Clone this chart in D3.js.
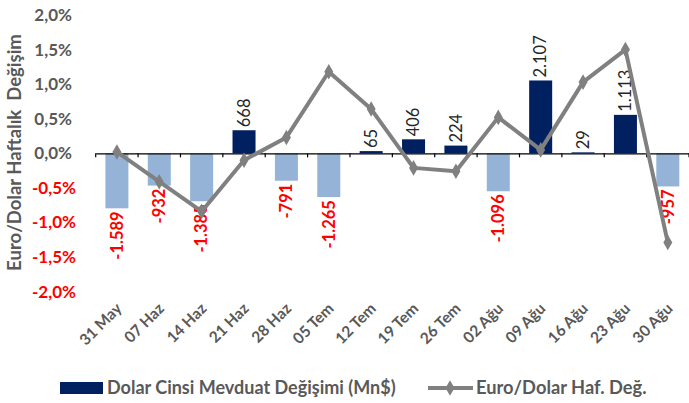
<!DOCTYPE html>
<html><head><meta charset="utf-8">
<script src="https://cdn.jsdelivr.net/npm/d3@7"></script>
<style>
body{margin:0;background:#fff;}
svg{display:block;font-family:Lato, "Open Sans", sans-serif;}
</style></head>
<body><svg id="c" width="689" height="403"></svg>
<script>
const categories = ["31 May","07 Haz","14 Haz","21 Haz","28 Haz","05 Tem","12 Tem","19 Tem","26 Tem","02 Ağu","09 Ağu","16 Ağu","23 Ağu","30 Ağu"];
const depositChange = [-1589,-932,-1385,668,-791,-1265,65,406,224,-1096,2107,29,1113,-957];
const euroUsd = [0.02,-0.41,-0.84,-0.10,0.23,1.18,0.64,-0.21,-0.26,0.52,0.05,1.03,1.50,-1.29];
const yTicks = [2.0,1.5,1.0,0.5,0.0,-0.5,-1.0,-1.5,-2.0];
const seriesNames = ["Dolar Cinsi Mevduat Değişimi (Mn$)","Euro/Dolar Haf. Değ."];
const yTitle = "Euro/Dolar Haftalık\u00a0\u00a0Değişim";

(function(){
const svg = d3.select("#c");
const pLeft = 95.7, pRight = 689, pTop = 15, pBottom = 291.7;
const x = d3.scaleBand().domain(categories).range([pLeft,pRight]).paddingInner(0.457).paddingOuter(0.2285);
const y = d3.scaleLinear().domain([-2,2]).range([pBottom,pTop]);
const y2 = d3.scaleLinear().domain([-4000,4000]).range([pBottom,pTop]);
const cx = c => x(c) + x.bandwidth()/2;
const loc = d3.formatLocale({decimal:",",thousands:".",grouping:[3],currency:["",""],minus:"-"});
const tickFmt = v => loc.format(".1f")(v) + "%";
const numFmt = loc.format(",d");

// y tick labels
svg.append("g").selectAll("text").data(yTicks).join("text")
  .attr("x", d => d < 0 ? 76 : 72)
  .attr("y", d => y(d))
  .attr("dy","0.35em")
  .attr("text-anchor","end")
  .attr("font-size",17).attr("font-weight","bold")
  .attr("fill", d => d < 0 ? "#FF0000" : "#595959")
  .text(d => tickFmt(d));

// y title
svg.append("text")
  .attr("transform","translate(15,152.5) rotate(-90)")
  .attr("dy","0.35em").attr("text-anchor","middle")
  .attr("font-size",18.5).attr("font-weight","bold").attr("fill","#595959")
  .text(yTitle);

// bars
svg.append("g").selectAll("rect").data(depositChange).join("rect")
  .attr("x",(d,i)=>x(categories[i]))
  .attr("width",x.bandwidth())
  .attr("y",d=>Math.min(y2(d),y2(0)))
  .attr("height",d=>Math.abs(y2(d)-y2(0)))
  .attr("fill",d=>d>=0?"#002060":"#95B3D7");

// zero axis with ticks
const ax = svg.append("g").attr("transform",`translate(0,${y(0)})`);
ax.call(d3.axisBottom(x).tickSize(0).tickFormat(""));
ax.select(".domain").attr("stroke","#000").attr("stroke-width",1.2);
const step = x.step();
ax.selectAll(".tk").data(d3.range(categories.length+1)).join("line")
  .attr("x1",i=>pLeft+i*step).attr("x2",i=>pLeft+i*step)
  .attr("y1",0).attr("y2",4).attr("stroke","#000").attr("stroke-width",1.2);

// bar labels
svg.append("g").selectAll("text").data(depositChange).join("text")
  .attr("transform",(d,i)=>{
    const px = cx(categories[i]);
    const py = d>=0 ? y2(d)-3 : y2(d)+3;
    return `translate(${px},${py}) rotate(-90)`;
  })
  .attr("dy","0.35em")
  .attr("text-anchor",d=>d>=0?"start":"end")
  .attr("font-size",16.5)
  .attr("font-weight",d=>d>=0?"normal":"bold")
  .attr("fill",d=>d>=0?"#262626":"#FF0000")
  .text(d=>numFmt(d));

// line
const pts = euroUsd.map((v,i)=>[cx(categories[i]),y(v)]);
svg.append("path").attr("d",d3.line()(pts)).attr("fill","none")
  .attr("stroke","#808080").attr("stroke-width",4).attr("stroke-linejoin","round");
const diamond = d3.symbol().type(d3.symbolDiamond).size(70);
svg.append("g").selectAll("path").data(pts).join("path")
  .attr("transform",d=>`translate(${d[0]},${d[1]})`)
  .attr("d",diamond).attr("fill","#808080");

// x labels
svg.append("g").selectAll("text").data(categories).join("text")
  .attr("transform",d=>`translate(${cx(d)+2},${y(-2)+14}) rotate(-45)`)
  .attr("dy","0.35em").attr("text-anchor","end")
  .attr("font-size",15.5).attr("font-weight","bold").attr("fill","#595959")
  .text(d=>d);

// legend
const lg = svg.append("g");
lg.append("rect").attr("x",60).attr("y",382).attr("width",43).attr("height",12).attr("fill","#002060");
lg.append("text").attr("x",107).attr("y",388).attr("dy","0.35em")
  .attr("font-size",18).attr("font-weight","bold").attr("fill","#595959").text(seriesNames[0]);
lg.append("line").attr("x1",428).attr("x2",473).attr("y1",388).attr("y2",388)
  .attr("stroke","#808080").attr("stroke-width",4);
lg.append("path").attr("transform","translate(450,388)").attr("d",diamond).attr("fill","#808080");
lg.append("text").attr("x",476).attr("y",388).attr("dy","0.35em")
  .attr("font-size",18.3).attr("font-weight","bold").attr("fill","#595959").text(seriesNames[1]);
})();
</script></body></html>
